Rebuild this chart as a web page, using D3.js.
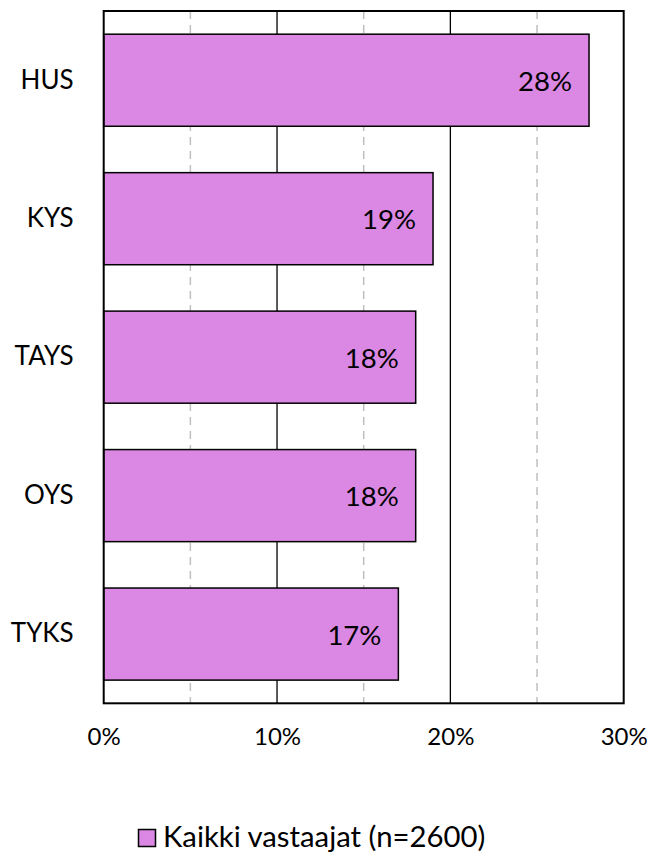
<!DOCTYPE html>
<html><head><meta charset="utf-8">
<script src="https://cdn.jsdelivr.net/npm/d3@7"></script>
<style>body{margin:0;background:#fff}svg{display:block}</style>
</head><body>
<svg id="c" width="650" height="853"></svg>
<script>
const categories = ["HUS","KYS","TAYS","OYS","TYKS"];
const values = [28,19,18,18,17];
const tickValues = [0,10,20,30];
const minorTicks = [5,15,25];
const seriesName = "Kaikki vastaajat (n=2600)";

const svg = d3.select("#c");
const m = {l:103.7, r:623.7, t:11, b:703.3};
const font = "Lato, 'Open Sans', sans-serif";
const x = d3.scaleLinear().domain([0,30]).range([m.l,m.r]);
const y = d3.scaleBand().domain(categories).range([m.t,m.b]).paddingInner(0.335).paddingOuter(0.1675);
const color = "#DA88E3";

// minor dashed gridlines
svg.append("g").selectAll("line").data(minorTicks).join("line")
  .attr("x1",d=>x(d)).attr("x2",d=>x(d)).attr("y1",m.t).attr("y2",m.b)
  .attr("stroke","#bfbfbf").attr("stroke-width",1.5).attr("stroke-dasharray","8,6");
// major gridlines
svg.append("g").selectAll("line").data(tickValues.slice(1,-1)).join("line")
  .attr("x1",d=>x(d)).attr("x2",d=>x(d)).attr("y1",m.t).attr("y2",m.b)
  .attr("stroke","#000").attr("stroke-width",1.3);

// bars
svg.append("g").selectAll("rect").data(categories).join("rect")
  .attr("x",x(0)).attr("y",d=>y(d))
  .attr("width",(d,i)=>x(values[i])-x(0)).attr("height",y.bandwidth())
  .attr("fill",color).attr("stroke","#000").attr("stroke-width",1.5);

// plot border
svg.append("rect").attr("x",m.l).attr("y",m.t).attr("width",m.r-m.l).attr("height",m.b-m.t)
  .attr("fill","none").attr("stroke","#000").attr("stroke-width",2);

// value labels
svg.append("g").selectAll("text").data(categories).join("text")
  .attr("x",(d,i)=>x(values[i])-17).attr("y",d=>y(d)+y.bandwidth()/2)
  .attr("text-anchor","end").attr("dominant-baseline","central")
  .attr("font-family",font).attr("font-size",27.5).attr("fill","#000")
  .text((d,i)=>values[i]+"%");

// y axis labels
const yAxis = d3.axisLeft(y).tickSize(0).tickPadding(0);
const ya = svg.append("g").attr("transform",`translate(${m.l-30},0)`).call(yAxis);
ya.select(".domain").remove();
ya.selectAll("text").attr("font-family",font).attr("font-size",26).attr("fill","#000");

// x axis labels
const xAxis = d3.axisBottom(x).tickValues(tickValues).tickFormat(d=>d+"%").tickSize(0).tickPadding(0);
const xa = svg.append("g").attr("transform",`translate(0,${m.b+25})`).call(xAxis);
xa.select(".domain").remove();
xa.selectAll("text").attr("font-family",font).attr("font-size",24).attr("fill","#000");

// legend
const lg = svg.append("g");
lg.append("rect").attr("x",138.5).attr("y",829.5).attr("width",17).attr("height",17)
  .attr("fill",color).attr("stroke","#000").attr("stroke-width",1.5);
lg.append("text").attr("x",163).attr("y",847).attr("font-family",font)
  .attr("font-size",29.3).attr("fill","#000").text(seriesName);
</script>
</body></html>
